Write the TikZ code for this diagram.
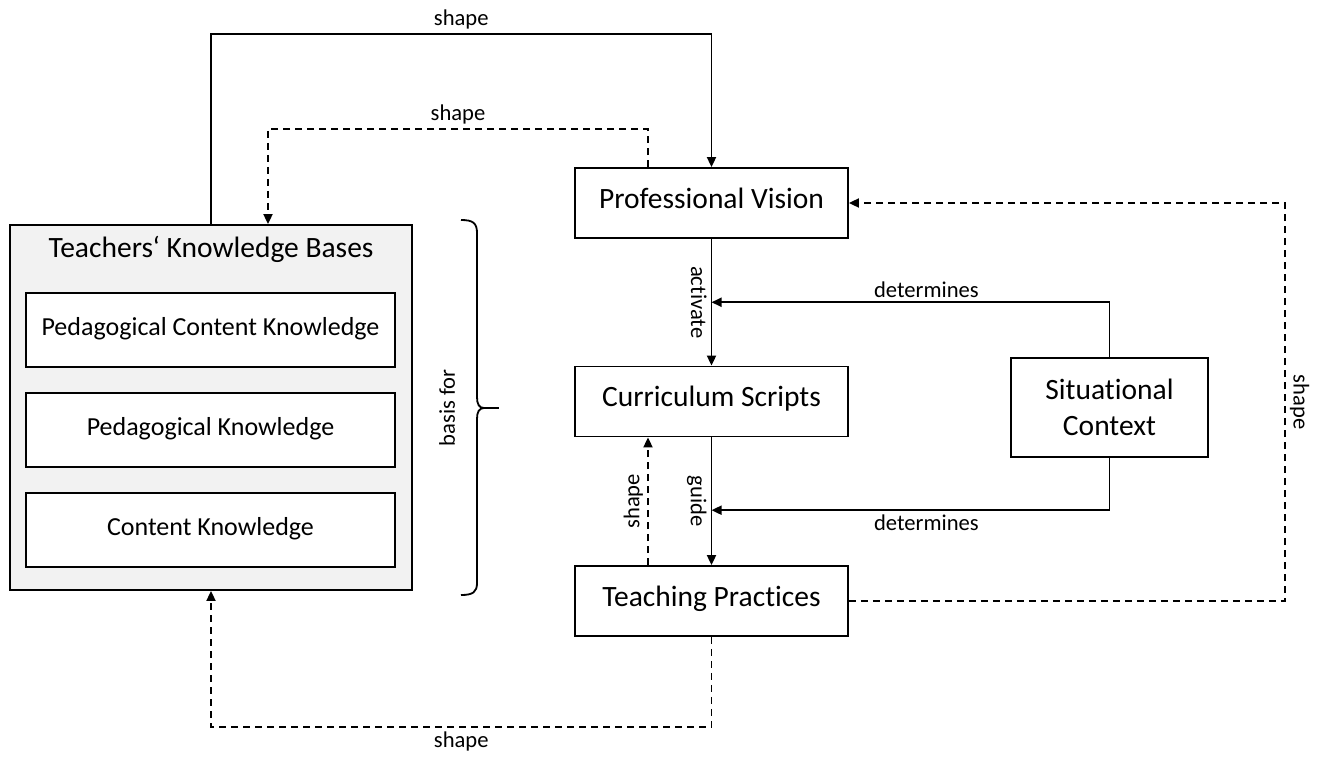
\documentclass[tikz,border=0pt]{standalone}
\usepackage{fontspec}
\setmainfont{Carlito}[Ligatures={NoCommon,NoRequired,NoContextual}, RawFeature=-liga, RawFeature=-calt]
\usetikzlibrary{arrows.meta,calc}

\begin{document}
\begin{tikzpicture}[x=0.5pt, y=-0.5pt,
    line width=0.9pt,
    mainbox/.style={draw, rectangle, minimum width=136.5pt, minimum height=35pt, inner sep=0pt,
        text height=0.72em, text depth=0.22em, font=\fontsize{14.75}{18}\selectfont},
    kbbox/.style={draw, fill=gray!10, minimum width=201pt, minimum height=182.5pt, inner sep=0pt},
    subbox/.style={draw, fill=white, minimum width=184.5pt, minimum height=37pt, inner sep=0pt,
        text height=0.72em, text depth=0.22em, font=\fontsize{13}{15}\selectfont},
    lbl/.style={font=\fontsize{11.3}{13}\selectfont, inner sep=2pt},
    arr/.style={-{Triangle[length=5pt, width=4.5pt]}},
    dasharr/.style={arr, dash pattern=on 3.5pt off 2.5pt}]

\useasboundingbox (0,0) rectangle (1317,756);

\node[kbbox] (kb) at (211,407.5) {};
\node[font=\fontsize{14.75}{18}\selectfont] (kbtitle) at (211,249) {Teachers‘ Knowledge Bases};
\node[subbox] (pck) at (210.5,330) {Pedagogical Content Knowledge};
\node[subbox] (pk) at (210.5,430) {Pedagogical Knowledge};
\node[subbox] (ck) at (210.5,530) {Content Knowledge};

\node[mainbox] (pv) at (711.5,203) {Professional Vision};
\node[mainbox] (cs) at (711.5,401.5) {Curriculum Scripts};
\node[mainbox] (tp) at (711.5,601) {Teaching Practices};
\node[mainbox, minimum width=98.5pt, minimum height=49.5pt, align=center,
    text height=, text depth=] (sc) at (1109.5,407.5) {Situational\\Context};

\coordinate (toprow) at (0,34);
\coordinate (midrow) at (0,129);
\coordinate (botrow) at (0,727);
\coordinate (rightcol) at (1285,0);
\coordinate (detA) at ($(pv.south)!0.5!(cs.north)$);
\coordinate (detB) at ($(cs.south)!0.57!(tp.north)$);

\draw[arr] (kb.north) -- (kb.north |- toprow) -- node[lbl, above] {shape} (pv.north |- toprow) -- (pv.north);
\draw[dasharr] ([xshift=-31.75pt]pv.north) -- ([xshift=-31.75pt]pv.north |- midrow)
    -- node[lbl, above] {shape} ([xshift=28.5pt]kb.north |- midrow) -- ([xshift=28.5pt]kb.north);

\draw[arr] (pv.south) -- node[lbl, rotate=-90, anchor=north] {activate} (cs.north);
\draw[arr] (cs.south) -- node[lbl, rotate=-90, anchor=north] {guide} (tp.north);
\draw[dasharr] ([xshift=-31.75pt]tp.north) -- node[lbl, rotate=90, anchor=south] {shape} ([xshift=-31.75pt]cs.south);

\draw[arr] (sc.north) |- node[lbl, above, pos=0.73] {determines} (detA);
\draw[arr] (sc.south) |- node[lbl, below, pos=0.73] {determines} (detB);

\draw[dasharr] (tp.east) -- (tp.east -| rightcol) -- node[lbl, rotate=-90, anchor=south] {shape} (pv.east -| rightcol) -- (pv.east);
\draw[dasharr] (tp.south) -- (tp.south |- botrow) -- node[lbl, below] {shape} (kb.south |- botrow) -- (kb.south);

\coordinate (bracetop) at (461,220);
\coordinate (bracebot) at (461,595);
\coordinate (bracetip) at (499,408);
\draw (bracetop) .. controls (473,220) and (477,223) .. (477,233) -- (477,397)
    .. controls (477,404) and (479,408) .. (484,408)
    .. controls (479,408) and (477,412) .. (477,419) -- (477,583)
    .. controls (477,592) and (473,595) .. (bracebot);
\draw (484,408) -- (bracetip);
\node[lbl, rotate=90] (basis) at (447,408) {basis for};

\end{tikzpicture}
\end{document}
